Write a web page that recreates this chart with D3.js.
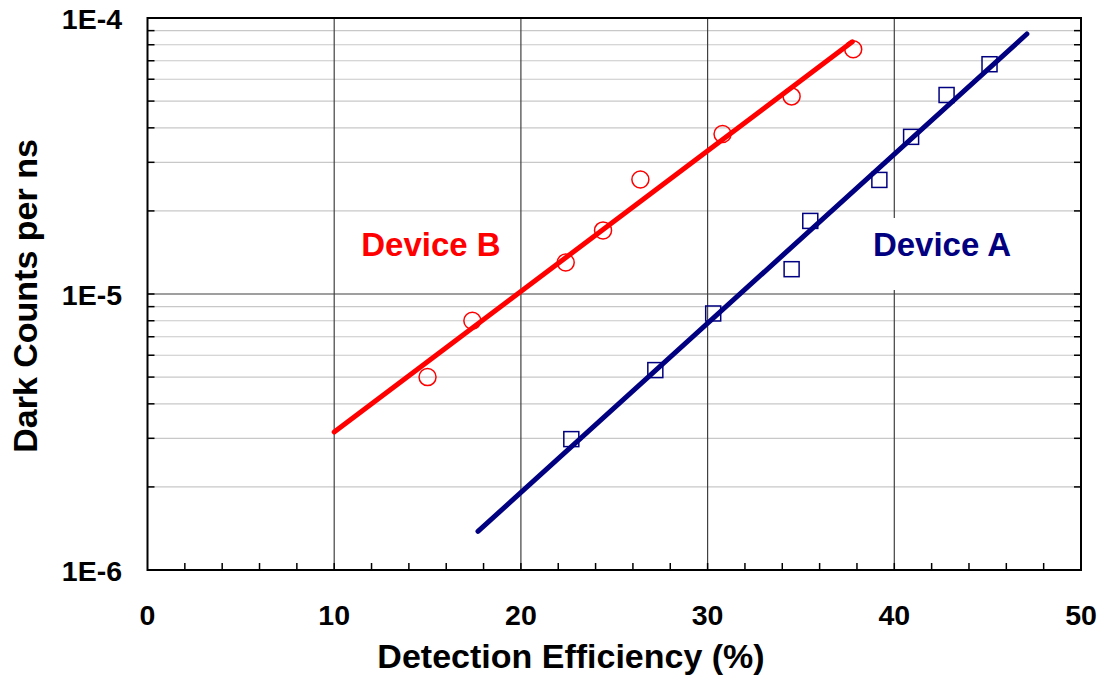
<!DOCTYPE html>
<html><head><meta charset="utf-8">
<script src="https://cdn.jsdelivr.net/npm/d3@7"></script>
<style>body{margin:0;background:#fff;} svg{display:block;font-family:"Liberation Sans",Arial,sans-serif;font-weight:bold;}</style>
</head><body>
<svg id="c" width="1103" height="676"></svg>
<script>
// Data
const deviceB_eff = [15.0, 17.4, 22.4, 24.4, 26.4, 30.8, 34.5, 37.8];
const deviceB_dc  = [5.0e-6, 8.0e-6, 1.3e-5, 1.7e-5, 2.6e-5, 3.8e-5, 5.2e-5, 7.7e-5];
const deviceA_eff = [22.7, 27.2, 30.3, 34.5, 35.5, 39.2, 40.9, 42.8, 45.1];
const deviceA_dc  = [2.98e-6, 5.3e-6, 8.5e-6, 1.23e-5, 1.84e-5, 2.59e-5, 3.71e-5, 5.26e-5, 6.8e-5];
const fitB_eff = [10.0, 37.75];
const fitB_dc  = [3.16e-6, 8.2e-5];
const fitA_eff = [17.7, 47.1];
const fitA_dc  = [1.38e-6, 8.75e-5];
const xTicks = [0, 10, 20, 30, 40, 50];
const yTicks = [1e-6, 1e-5, 1e-4];
const yTickLabels = ["1E-6", "1E-5", "1E-4"];

const svg = d3.select("#c");
const L = 147.5, R = 1081, T = 18, B = 570;
const x = d3.scaleLinear().domain([0, 50]).range([L, R]);
const y = d3.scaleLog().domain([1e-6, 1e-4]).range([B, T]);

// minor horizontal gridlines
const minorY = [];
for (let e = -6; e < -4; e++) for (let m = 2; m <= 9; m++) minorY.push(m * Math.pow(10, e));
svg.append("g").selectAll("line").data(minorY).join("line")
  .attr("x1", L).attr("x2", R).attr("y1", d => y(d)).attr("y2", d => y(d))
  .attr("stroke", "#c8c8c8").attr("stroke-width", 1.2);
// major gridlines
svg.append("g").selectAll("line").data([1e-5]).join("line")
  .attr("x1", L).attr("x2", R).attr("y1", d => y(d)).attr("y2", d => y(d))
  .attr("stroke", "#404040").attr("stroke-width", 1.2);
svg.append("g").selectAll("line").data([10, 20, 30, 40]).join("line")
  .attr("x1", d => x(d)).attr("x2", d => x(d)).attr("y1", T).attr("y2", B)
  .attr("stroke", "#404040").attr("stroke-width", 1.2);

// ticks
const minorX = d3.range(2, 50, 2);
svg.append("g").selectAll("line").data(minorX).join("line")
  .attr("x1", d => x(d)).attr("x2", d => x(d)).attr("y1", B).attr("y2", B - 7)
  .attr("stroke", "#000").attr("stroke-width", 1.5);
svg.append("g").selectAll("line").data(minorY.concat(yTicks)).join("line")
  .attr("x1", L).attr("x2", L + 7).attr("y1", d => y(d)).attr("y2", d => y(d))
  .attr("stroke", "#000").attr("stroke-width", 1.5);
svg.append("g").selectAll("line").data(minorY.concat(yTicks)).join("line")
  .attr("x1", R).attr("x2", R - 7).attr("y1", d => y(d)).attr("y2", d => y(d))
  .attr("stroke", "#000").attr("stroke-width", 1.5);

// frame
svg.append("rect").attr("x", L).attr("y", T).attr("width", R - L).attr("height", B - T)
  .attr("fill", "none").attr("stroke", "#000").attr("stroke-width", 2);

// labels with white boxes
svg.append("rect").attr("x", 354).attr("y", 218).attr("width", 155).attr("height", 72).attr("fill", "#fff");
svg.append("rect").attr("x", 865).attr("y", 218).attr("width", 156).attr("height", 72).attr("fill", "#fff");
svg.append("text").attr("x", 431).attr("y", 256).attr("text-anchor", "middle")
  .attr("font-size", 33).attr("fill", "#ff0000").text("Device B");
svg.append("text").attr("x", 942).attr("y", 256).attr("text-anchor", "middle")
  .attr("font-size", 33).attr("fill", "#000080").text("Device A");

// fit lines
const line = d3.line().x(d => x(d[0])).y(d => y(d[1]));
svg.append("path").datum(d3.zip(fitB_eff, fitB_dc)).attr("d", line)
  .attr("stroke", "#ff0000").attr("stroke-width", 5).attr("fill", "none").attr("stroke-linecap", "round");
svg.append("path").datum(d3.zip(fitA_eff, fitA_dc)).attr("d", line)
  .attr("stroke", "#000080").attr("stroke-width", 5).attr("fill", "none").attr("stroke-linecap", "round");

// points
svg.append("g").selectAll("circle").data(d3.zip(deviceB_eff, deviceB_dc)).join("circle")
  .attr("cx", d => x(d[0])).attr("cy", d => y(d[1])).attr("r", 8.5)
  .attr("fill", "none").attr("stroke", "#ff0000").attr("stroke-width", 1.5);
const s = 15;
svg.append("g").selectAll("rect").data(d3.zip(deviceA_eff, deviceA_dc)).join("rect")
  .attr("x", d => x(d[0]) - s / 2).attr("y", d => y(d[1]) - s / 2).attr("width", s).attr("height", s)
  .attr("fill", "none").attr("stroke", "#000080").attr("stroke-width", 1.5);

// tick labels
svg.append("g").selectAll("text").data(xTicks).join("text")
  .attr("x", d => x(d)).attr("y", 625).attr("text-anchor", "middle")
  .attr("font-size", 28.5).attr("fill", "#000").text(d => d);
svg.append("g").selectAll("text").data(yTicks).join("text")
  .attr("x", 122).attr("y", d => y(d) + 11).attr("text-anchor", "end")
  .attr("font-size", 28.5).attr("fill", "#000").text((d, i) => yTickLabels[i]);

// axis titles
svg.append("text").attr("x", 571).attr("y", 668).attr("text-anchor", "middle")
  .attr("font-size", 34).attr("fill", "#000").text("Detection Efficiency (%)");
svg.append("text").attr("transform", "translate(37,296) rotate(-90)").attr("text-anchor", "middle")
  .attr("font-size", 34).attr("fill", "#000").text("Dark Counts per ns");
</script>
</body></html>
